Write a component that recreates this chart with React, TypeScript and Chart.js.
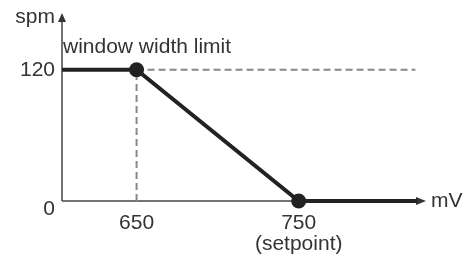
import React, { useEffect, useRef } from "react";
import { Chart, registerables } from "chart.js";

Chart.register(...registerables);

// ---- data ----
const curveX = [604, 650, 750, 823];
const curveY = [120, 120, 0, 0];
const markerRadius = [0, 7.5, 7.5, 0];
const limitLineX = [650, 822];
const limitLineY = [120, 120];
const dropLineX = [650, 650];
const dropLineY = [0, 120];
const xTicks = [650, 750];
const xTickLabels = [["650"], ["750", "(setpoint)"]];
const yTicks = [0, 120];
const yTickLabels = ["0", "120"];
const xAxisTitle = "mV";
const yAxisTitle = "spm";
const annotationText = "window width limit";
const X_MIN = 604;
const X_MAX = 831;
const Y_MIN = 0;
const Y_MAX = 170;

const FONT = "21px 'Liberation Sans', Arial, sans-serif";
const TEXT = "#333333";

const toPts = (xs: number[], ys: number[]) => xs.map((x, i) => ({ x, y: ys[i] }));

const axesPlugin = {
  id: "customAxes",
  beforeDatasetsDraw(chart: any) {
    const { ctx, scales } = chart;
    const xs = scales.x;
    const ys = scales.y;
    const x0 = xs.getPixelForValue(X_MIN);
    const y0 = ys.getPixelForValue(0);
    const yTop = ys.getPixelForValue(Y_MAX);
    const xEnd = xs.getPixelForValue(X_MAX);
    ctx.save();
    ctx.strokeStyle = "#444444";
    ctx.fillStyle = "#333333";
    ctx.lineWidth = 1.5;
    // y axis
    ctx.beginPath();
    ctx.moveTo(x0, y0);
    ctx.lineTo(x0, yTop + 6);
    ctx.stroke();
    ctx.beginPath();
    ctx.moveTo(x0, yTop - 2);
    ctx.lineTo(x0 - 4, yTop + 7);
    ctx.lineTo(x0 + 4, yTop + 7);
    ctx.closePath();
    ctx.fill();
    // x axis
    ctx.beginPath();
    ctx.moveTo(x0, y0);
    ctx.lineTo(xEnd - 10, y0);
    ctx.stroke();
    ctx.beginPath();
    ctx.moveTo(xEnd - 4, y0);
    ctx.lineTo(xEnd - 14, y0 - 4);
    ctx.lineTo(xEnd - 14, y0 + 4);
    ctx.closePath();
    ctx.fill();
    ctx.restore();
  },
  afterDraw(chart: any) {
    const { ctx, scales } = chart;
    const xs = scales.x;
    const ys = scales.y;
    const x0 = xs.getPixelForValue(X_MIN);
    const y0 = ys.getPixelForValue(0);
    const yTop = ys.getPixelForValue(Y_MAX);
    const xEnd = xs.getPixelForValue(X_MAX);
    ctx.save();
    ctx.font = FONT;
    ctx.fillStyle = TEXT;
    ctx.textBaseline = "middle";
    // x tick labels
    ctx.textAlign = "center";
    xTicks.forEach((v, i) => {
      const px = xs.getPixelForValue(v);
      xTickLabels[i].forEach((line, j) => {
        ctx.fillText(line, px, y0 + 22 + j * 21);
      });
    });
    // y tick labels
    ctx.textAlign = "right";
    yTicks.forEach((v, i) => {
      const py = ys.getPixelForValue(v);
      ctx.fillText(yTickLabels[i], x0 - 7, v === 0 ? py + 8 : py);
    });
    // axis titles
    ctx.textAlign = "right";
    ctx.fillText(yAxisTitle, x0 - 7, yTop + 2);
    ctx.textAlign = "left";
    ctx.fillText(xAxisTitle, xEnd + 1, y0);
    // annotation
    ctx.fillText(annotationText, x0 + 1, ys.getPixelForValue(120) - 23);
    ctx.restore();
  },
};

export default function App() {
  const ref = useRef<HTMLCanvasElement | null>(null);
  useEffect(() => {
    if (!ref.current) return;
    const chart = new Chart(ref.current, {
      type: "scatter",
      data: {
        datasets: [
          {
            data: toPts(curveX, curveY),
            showLine: true,
            clip: false,
            borderColor: "#222222",
            borderWidth: 4,
            pointRadius: markerRadius,
            pointBackgroundColor: "#222222",
            pointBorderWidth: 0,
            pointHoverRadius: markerRadius,
          },
          {
            data: toPts(limitLineX, limitLineY),
            showLine: true,
            clip: false,
            borderColor: "#888888",
            borderWidth: 2,
            borderDash: [7, 4],
            pointRadius: 0,
          },
          {
            data: toPts(dropLineX, dropLineY),
            showLine: true,
            clip: false,
            borderColor: "#888888",
            borderWidth: 2,
            borderDash: [7, 4],
            pointRadius: 0,
          },
        ],
      },
      options: {
        animation: false,
        responsive: false,
        devicePixelRatio: 1,
        layout: { padding: { left: 62, right: 40, top: 15, bottom: 61 } },
        plugins: { legend: { display: false }, tooltip: { enabled: false } },
        events: [],
        scales: {
          x: { type: "linear", min: X_MIN, max: X_MAX, display: false },
          y: { type: "linear", min: Y_MIN, max: Y_MAX, display: false },
        },
      },
      plugins: [axesPlugin],
    });
    return () => chart.destroy();
  }, []);
  return (
    <div style={{ position: "fixed", left: 0, top: 0, width: 470, height: 262, background: "#fff" }}>
      <canvas ref={ref} width={470} height={262} style={{ width: 470, height: 262 }} />
    </div>
  );
}
